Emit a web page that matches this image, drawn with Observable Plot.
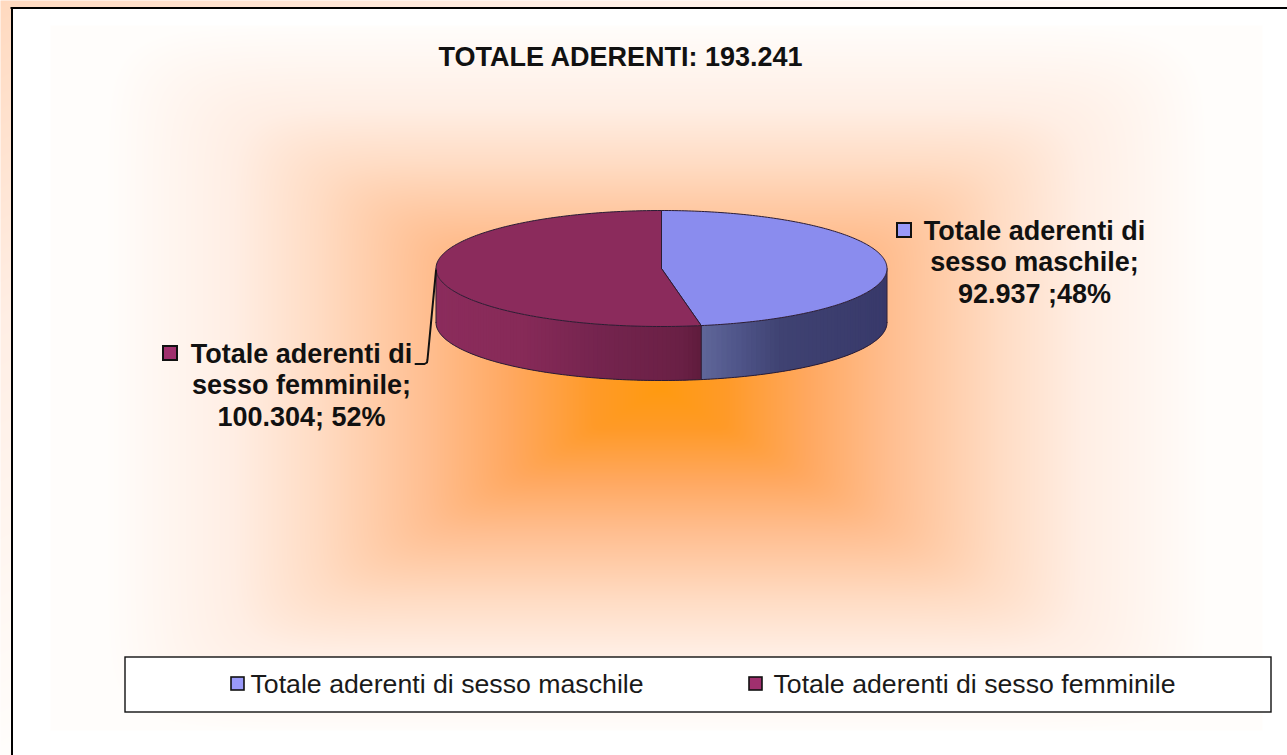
<!DOCTYPE html>
<html>
<head>
<meta charset="utf-8">
<script src="https://cdn.jsdelivr.net/npm/d3@7"></script>
<script src="https://cdn.jsdelivr.net/npm/@observablehq/plot@0.6"></script>
<style>
html,body{margin:0;padding:0;background:#fff;overflow:hidden}
svg{display:block}
</style>
</head>
<body>
<div id="chart"></div>
<script>
// Data
const categories = ["Totale aderenti di sesso maschile", "Totale aderenti di sesso femminile"];
const values = [92937, 100304];
const titleText = "TOTALE ADERENTI: 193.241";
const sliceLabels = ["Totale aderenti di\nsesso maschile;\n92.937 ;48%", "Totale aderenti di\nsesso femminile;\n100.304; 52%"];

// Layout and style (separate from data)
const W = 1287, H = 755;
const pie = {cx: 661, cy: 268, rx: 225.5, ry: 58, depth: 54, warp: 0.675};
const topColors = ["#8A8CEE", "#8B2B5C"];
const swatchColors = ["#9A9AFA", "#A0306E"];
const wallStops = [
  {x: [702, 740, 780, 887], c: ["#5F6699", "#4E5488", "#3F4272", "#38396A"]},
  {x: [436, 520, 600, 680, 702], c: ["#8B2C5C", "#872A58", "#74244E", "#6A2045", "#5E1B3C"]}
];
const ramp = {
  t: [0, 0.12, 0.27, 0.42, 0.62, 0.77, 1],
  c: ["#FF9A10", "#FF9A28", "#FFA860", "#FFBE90", "#FFDCC4", "#FFEEE4", "#FFFDFB"]
};
const grad = {cx: 660, cy: 388, left: 50, right: 1262, top: 25, bottom: 730, xGain: 1.1, soft: 12};
const frame = {x: 11.5, y: 7.5};
const legendBox = {x1: 125, x2: 1271, y1: 657, y2: 712};
const legendSwatches = [{x: 231, y: 677}, {x: 749, y: 677}];
const legendText = [{x: 250, y: 692}, {x: 773, y: 692}];
const labelPos = [{x: 1034, y: 302}, {x: 301, y: 425}];
const labelSwatches = [{x: 897, y: 223}, {x: 163, y: 346}];
const leader = [[pie.cx - pie.rx, pie.cy + 2], [427, 359], [426.5, 362], [424, 363.5], [415, 363.5]];

// Geometry derived from the values
const total = d3.sum(values);
const warp = th => 2 * Math.atan2(pie.warp * Math.sin(th / 2), Math.cos(th / 2));
const angle = v => (((v / total) * 2 * Math.PI));
const rim = (phi, dy = 0) => ({x: pie.cx + pie.rx * Math.sin(phi), y: pie.cy - pie.ry * Math.cos(phi) + dy});
const split = warp(angle(values[0]));
const arc = (a, b, n = 200, dy = 0) => d3.range(n + 1).map(i => rim(a + (b - a) * i / n, dy));
const centre = {x: pie.cx, y: pie.cy};
const faces = [
  [centre, ...arc(0, split), centre],
  [centre, ...arc(split, 2 * Math.PI), centre]
];
function wallStrips(a, b, stops, n) {
  const col = d3.scaleLinear().domain(stops.x).range(stops.c).clamp(true);
  return d3.range(n).map(i => {
    const p = a + (b - a) * i / n, q = a + (b - a) * Math.min(n, i + 2) / n;
    const mid = rim(a + (b - a) * (i + 0.5) / n);
    return {pts: [...arc(p, q, 4), ...arc(q, p, 4, pie.depth)], color: col(mid.x)};
  });
}
const strips = [
  ...wallStrips(Math.PI / 2, split, wallStops[0], 60),
  ...wallStrips(split, 3 * Math.PI / 2, wallStops[1], 90)
];

// Background: a rectangular path gradient plus the outer strip
function bg(x, y) {
  if (x < frame.x || y < frame.y) return 0.6 + 0.4 * Math.min(1, x / W + y / H);
  if (x < grad.left || x > grad.right || y < grad.top || y > grad.bottom) return 1.2;
  const tx = grad.xGain * (x < grad.cx ? (grad.cx - x) / (grad.cx - grad.left) : (x - grad.cx) / (grad.right - grad.cx));
  const ty = y < grad.cy ? (grad.cy - y) / (grad.cy - grad.top) : (y - grad.cy) / (grad.bottom - grad.cy);
  return Math.min(1, Math.pow(Math.pow(tx, grad.soft) + Math.pow(ty, grad.soft), 1 / grad.soft));
}

const outline = "#2a1c34";
const line = (pts, o) => Plot.line(pts, {x: "x", y: "y", ...o});
const font = "Liberation Sans, Arial, sans-serif";

const plot = Plot.plot({
  width: W, height: H, margin: 0,
  style: {background: "transparent", fontFamily: font},
  x: {domain: [0, W], range: [0, W], axis: null},
  y: {domain: [0, H], range: [0, H], axis: null},
  color: {type: "linear", domain: [...ramp.t, 1.2], range: [...ramp.c, "#FFFFFF"], clamp: true, interpolate: "rgb"},
  marks: [
    Plot.raster({fill: bg, x1: 0, x2: W, y1: 0, y2: H, pixelSize: 1}),
    // frame
    Plot.ruleY([frame.y], {x1: frame.x - 1, x2: W, stroke: "#000", strokeWidth: 2}),
    Plot.ruleX([frame.x], {y1: frame.y, y2: H, stroke: "#000", strokeWidth: 2}),
    // title
    Plot.text([titleText], {x: 620, y: 65, text: d => d, fontSize: 27, fontWeight: "bold", fill: "#111", lineAnchor: "bottom"}),
    // walls
    ...strips.map(s => line(s.pts, {fill: s.color, stroke: "none"})),
    line(arc(Math.PI / 2, 3 * Math.PI / 2, 200, pie.depth), {stroke: outline, strokeWidth: 1}),
    line([rim(Math.PI / 2), rim(Math.PI / 2, pie.depth)], {stroke: outline, strokeWidth: 1}),
    line([rim(3 * Math.PI / 2), rim(3 * Math.PI / 2, pie.depth)], {stroke: outline, strokeWidth: 1}),
    line([rim(split), rim(split, pie.depth)], {stroke: outline, strokeWidth: 1}),
    // top faces
    ...faces.map((f, i) => line(f, {fill: topColors[i], stroke: outline, strokeWidth: 1})),
    // leader
    Plot.line(leader, {x: d => d[0], y: d => d[1], stroke: "#111", strokeWidth: 2}),
    // data labels
    Plot.text(sliceLabels, {x: (d, i) => labelPos[i].x, y: (d, i) => labelPos[i].y, text: d => d, textAnchor: "middle", lineAnchor: "bottom", lineHeight: 1.15, fontSize: 27, fontWeight: "bold", fill: "#111"}),
    Plot.rect(labelSwatches, {x1: "x", x2: d => d.x + 14, y1: "y", y2: d => d.y + 14, fill: (d, i) => swatchColors[i], stroke: "#111", strokeWidth: 2}),
    // legend
    Plot.rect([legendBox], {x1: "x1", x2: "x2", y1: "y1", y2: "y2", fill: "#fff", stroke: "#111", strokeWidth: 1.4}),
    Plot.rect(legendSwatches, {x1: "x", x2: d => d.x + 13, y1: "y", y2: d => d.y + 13, fill: (d, i) => swatchColors[i], stroke: "#111", strokeWidth: 1.6}),
    Plot.text(categories, {x: (d, i) => legendText[i].x, y: (d, i) => legendText[i].y, text: d => d, textAnchor: "start", lineAnchor: "bottom", fontSize: 26.7, fill: "#1a1a1a"})
  ]
});
document.getElementById("chart").appendChild(plot);
</script>
</body>
</html>
